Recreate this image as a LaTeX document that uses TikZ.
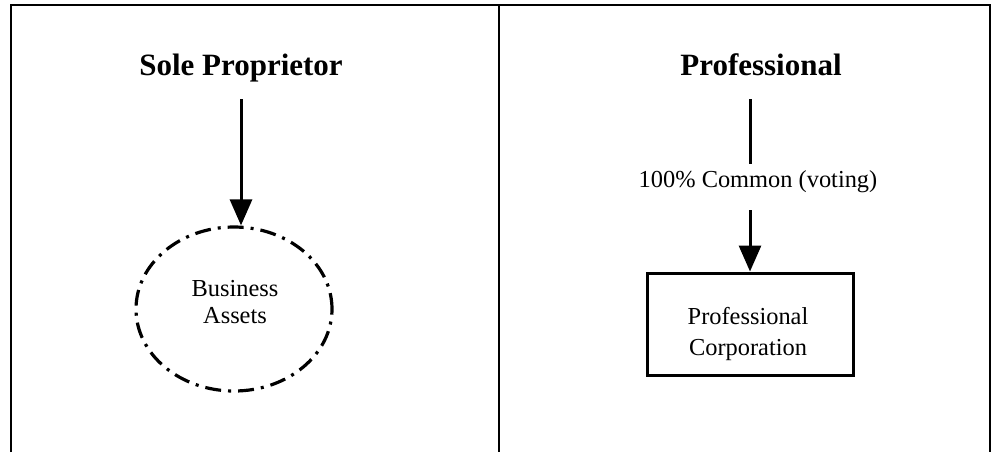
\documentclass[tikz,border=0pt]{standalone}
\usepackage{fontspec}
\setmainfont{Liberation Serif}
\usetikzlibrary{shapes.geometric,arrows.meta}

\begin{document}
\begin{tikzpicture}[x=0.5pt, y=-0.5pt,
  title/.style={font=\fontsize{15.5}{18}\selectfont\bfseries, text height=0.7em, text depth=0.22em},
  body/.style={font=\fontsize{12.2}{13.5}\selectfont, align=center},
  ring/.style={draw, ellipse, line width=1.6pt, dash pattern=on 8pt off 3.5pt on 1.5pt off 3.5pt, minimum width=98pt, minimum height=82pt},
  frame/.style={draw, line width=1.5pt, minimum width=103pt, minimum height=51pt},
  link/.style={line width=1.5pt},
  tip/.style={link, -{Triangle[length=13pt, width=11pt]}}]
\def\lx{241}
\def\rx{750}

\useasboundingbox (0,0) rectangle (995,452);

% the two columns
\draw[line width=0.8pt] (11,452) -- (11,5) -- (990,5) -- (990,452);
\draw[line width=0.8pt] (499,5) -- (499,452);

\node[title] (sole) at (\lx, 71) {Sole Proprietor};
\node[ring] (ring) at (\lx - 7, 309) {};
\node[body] (assets) at (\lx - 6, 302) {Business\\Assets};

\node[title] (prof) at (\rx + 11, 71) {Professional};
\node[body] (share) at (\rx + 8, 182) {100\% Common (voting)};
\node[frame] (box) at (\rx, 324) {};
\node[body] (corp) at (\rx - 2, 334) {Professional\\[2pt]Corporation};

\draw[tip, shorten <=6pt] (sole.south) -- (sole.south |- ring.north);
\draw[link, shorten <=6pt] (box |- prof.south) -- (box |- share.north);
\draw[tip, shorten <=5pt] (box |- share.south) -- (box.north);
\end{tikzpicture}
\end{document}
